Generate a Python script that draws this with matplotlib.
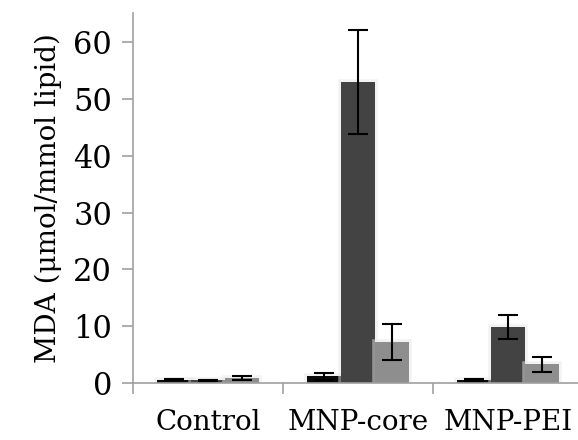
import matplotlib.pyplot as plt
import matplotlib.patheffects as pe
import numpy as np

categories = ["Control", "MNP-core", "MNP-PEI"]
series_black = [0.6, 1.2, 0.5]
series_black_err = [0.1, 0.6, 0.2]
series_dark = [0.5, 53.0, 9.8]
series_dark_err = [0.1, 9.2, 2.1]
series_light = [0.9, 7.2, 3.3]
series_light_err = [0.4, 3.2, 1.3]
yticks = [0, 10, 20, 30, 40, 50, 60]

plt.rcParams["font.family"] = ["DejaVu Serif"]

fig = plt.figure(figsize=(5.78, 4.40), dpi=100)
ax = fig.add_axes([0.230, 0.1295, 0.770, 0.8405])

x = np.arange(len(categories))
width = 0.227
halo = [pe.Stroke(linewidth=4, foreground="0.9", alpha=0.5), pe.Normal()]

groups = [
    (series_black, series_black_err, "#0a0a0a", -width),
    (series_dark, series_dark_err, "#434343", 0.0),
    (series_light, series_light_err, "#8e8e8e", width),
]
for vals, errs, color, off in groups:
    bars = ax.bar(x + off, vals, width, color=color, linewidth=0, zorder=2)
    for b in bars:
        b.set_path_effects(halo)
    ax.errorbar(x + off, vals, yerr=errs, fmt="none", ecolor="black",
                elinewidth=1.5, capsize=7, capthick=1.5, zorder=3)

ax.set_xlim(-0.5, 2.467)
ax.set_ylim(0, 65.1)
ax.set_yticks(yticks)
ax.set_yticklabels([str(t) for t in yticks], fontsize=22)
ax.tick_params(axis="y", length=8, width=1.2, color="#a0a0a0", pad=7)

# category labels sit between the boundary ticks
ax.set_xticks([-0.5, 0.5, 1.5])
ax.set_xticklabels([])
ax.tick_params(axis="x", length=8, width=1.2, color="#a0a0a0")
ax.set_xticks(x, minor=True)
ax.set_xticklabels(categories, minor=True, fontsize=20)
ax.tick_params(axis="x", which="minor", length=0, pad=19)

for side in ("top", "right"):
    ax.spines[side].set_visible(False)
for side in ("left", "bottom"):
    ax.spines[side].set_color("#a0a0a0")
    ax.spines[side].set_linewidth(1.2)

ax.set_ylabel("MDA (μmol/mmol lipid)", fontsize=20, labelpad=8)

fig.savefig("out.png", dpi=100)
